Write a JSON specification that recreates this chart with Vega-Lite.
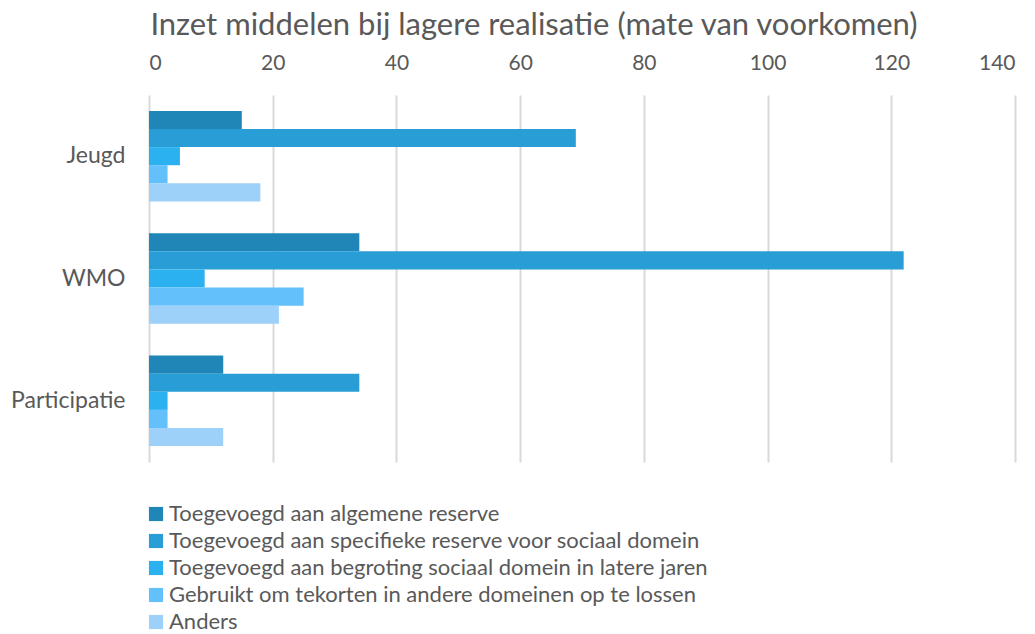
{
  "$schema": "https://vega.github.io/schema/vega-lite/v6.json",
  "width": 866,
  "height": 367,
  "autosize": "none",
  "padding": {"left": 149, "top": 95, "right": 20, "bottom": 172},
  "background": "white",
  "title": {
    "text": "Inzet middelen bij lagere realisatie (mate van voorkomen)",
    "font": "Lato",
    "fontSize": 31,
    "fontWeight": "normal",
    "color": "#595959",
    "anchor": "middle",
    "frame": "group",
    "dx": -48,
    "offset": 10
  },
  "data": {
    "values": [
      {"cat": "Jeugd", "serie": "Toegevoegd aan algemene reserve", "v": 15},
      {"cat": "Jeugd", "serie": "Toegevoegd aan specifieke reserve voor sociaal domein", "v": 69},
      {"cat": "Jeugd", "serie": "Toegevoegd aan begroting sociaal domein in latere jaren", "v": 5},
      {"cat": "Jeugd", "serie": "Gebruikt om tekorten in andere domeinen op te lossen", "v": 3},
      {"cat": "Jeugd", "serie": "Anders", "v": 18},
      {"cat": "WMO", "serie": "Toegevoegd aan algemene reserve", "v": 34},
      {"cat": "WMO", "serie": "Toegevoegd aan specifieke reserve voor sociaal domein", "v": 122},
      {"cat": "WMO", "serie": "Toegevoegd aan begroting sociaal domein in latere jaren", "v": 9},
      {"cat": "WMO", "serie": "Gebruikt om tekorten in andere domeinen op te lossen", "v": 25},
      {"cat": "WMO", "serie": "Anders", "v": 21},
      {"cat": "Participatie", "serie": "Toegevoegd aan algemene reserve", "v": 12},
      {"cat": "Participatie", "serie": "Toegevoegd aan specifieke reserve voor sociaal domein", "v": 34},
      {"cat": "Participatie", "serie": "Toegevoegd aan begroting sociaal domein in latere jaren", "v": 3},
      {"cat": "Participatie", "serie": "Gebruikt om tekorten in andere domeinen op te lossen", "v": 3},
      {"cat": "Participatie", "serie": "Anders", "v": 12}
    ]
  },
  "mark": {"type": "bar"},
  "encoding": {
    "y": {
      "field": "cat",
      "type": "nominal",
      "sort": ["Jeugd", "WMO", "Participatie"],
      "scale": {"paddingInner": 0.26, "paddingOuter": 0.13},
      "axis": {
        "title": null,
        "domain": false,
        "ticks": false,
        "labelFont": "Lato",
        "labelFontSize": 23,
        "labelColor": "#595959",
        "labelPadding": 24
      }
    },
    "yOffset": {
      "field": "serie",
      "type": "nominal",
      "sort": [
        "Toegevoegd aan algemene reserve",
        "Toegevoegd aan specifieke reserve voor sociaal domein",
        "Toegevoegd aan begroting sociaal domein in latere jaren",
        "Gebruikt om tekorten in andere domeinen op te lossen",
        "Anders"
      ],
      "scale": {"paddingInner": 0, "paddingOuter": 0}
    },
    "x": {
      "field": "v",
      "type": "quantitative",
      "scale": {"domain": [0, 140], "nice": false},
      "axis": {
        "orient": "top",
        "title": null,
        "values": [0, 20, 40, 60, 80, 100, 120, 140],
        "domain": false,
        "ticks": false,
        "grid": true,
        "gridColor": "#d9d9d9",
        "gridWidth": 2,
        "labelFont": "Lato",
        "labelFontSize": 21,
        "labelColor": "#595959",
        "labelPadding": 22
      }
    },
    "color": {
      "field": "serie",
      "type": "nominal",
      "sort": [
        "Toegevoegd aan algemene reserve",
        "Toegevoegd aan specifieke reserve voor sociaal domein",
        "Toegevoegd aan begroting sociaal domein in latere jaren",
        "Gebruikt om tekorten in andere domeinen op te lossen",
        "Anders"
      ],
      "scale": {
        "range": ["#1f86b7", "#289dd6", "#2bb1ef", "#63c0fb", "#9dd1f9"]
      },
      "legend": {
        "title": null,
        "orient": "none",
        "legendX": -4,
        "legendY": 408,
        "symbolType": "square",
        "symbolSize": 200,
        "symbolStrokeWidth": 0,
        "labelFont": "Lato",
        "labelFontSize": 22,
        "labelColor": "#595959",
        "labelLimit": 900,
        "rowPadding": 5,
        "labelOffset": 2
      }
    }
  },
  "config": {"view": {"stroke": null}}
}
